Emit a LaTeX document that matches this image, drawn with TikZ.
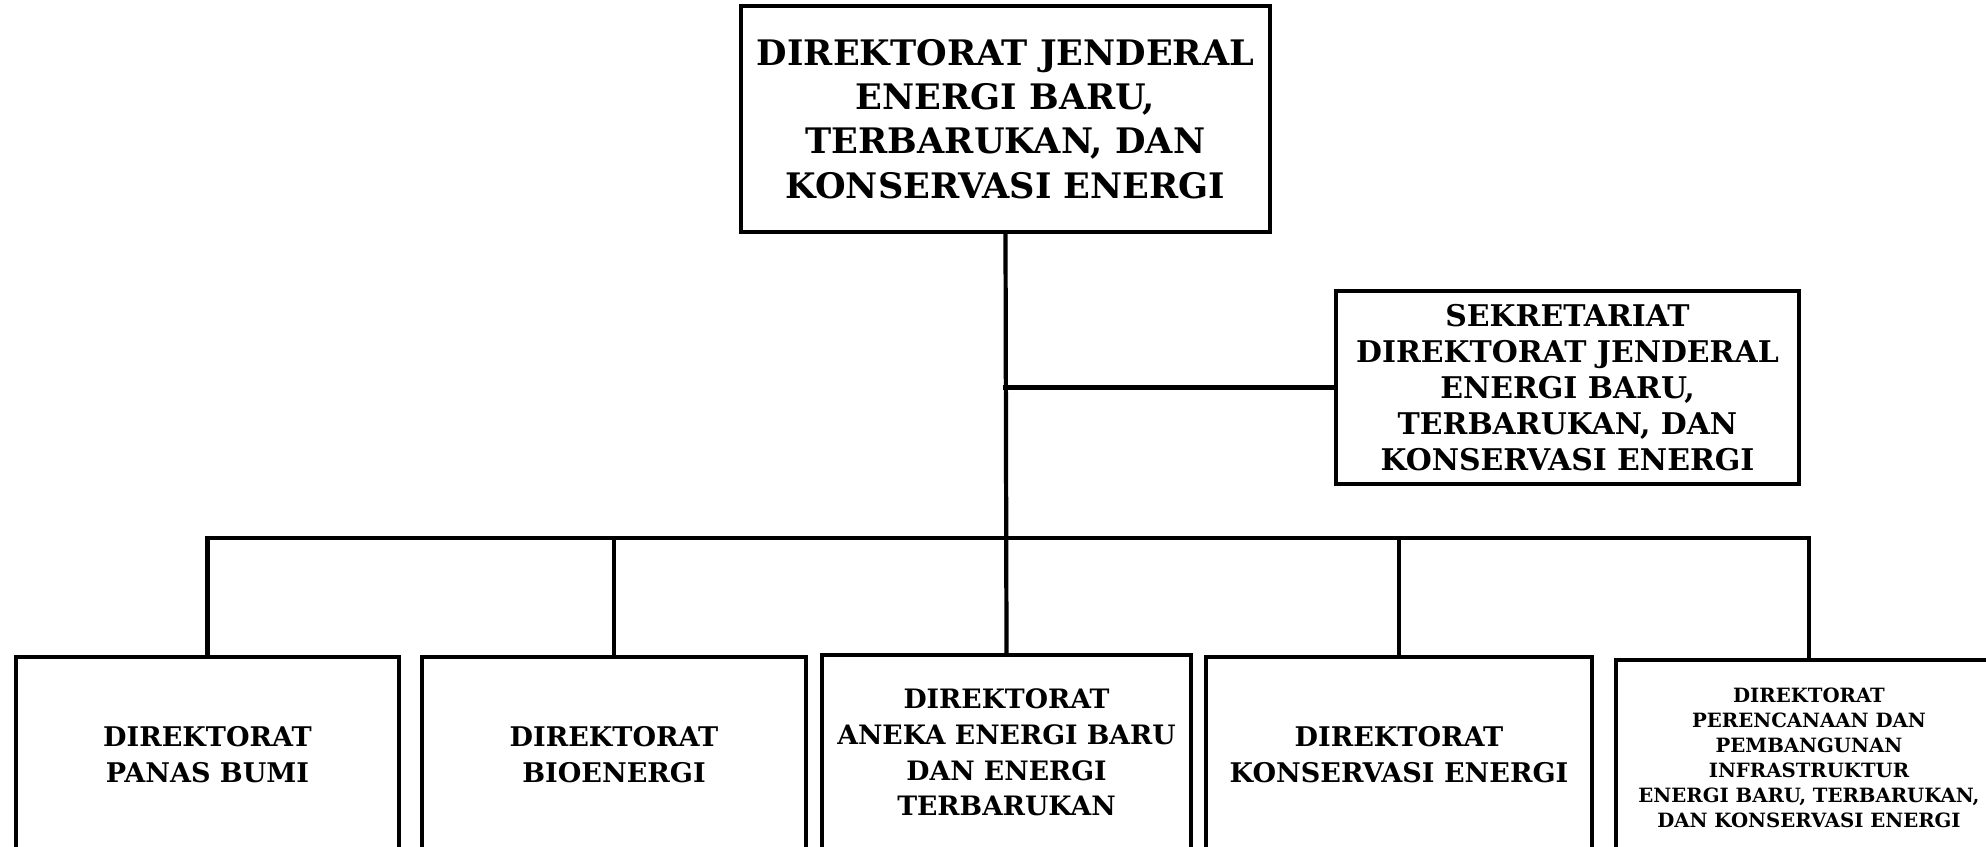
\documentclass[tikz,border=0pt]{standalone}
\usepackage{fontspec}
\setmainfont{DejaVu Serif}
\usetikzlibrary{positioning,calc}

\begin{document}
\begin{tikzpicture}[
    unit/.style={draw, line width=1.2pt, align=center, inner sep=0pt},
    link/.style={line width=1.2pt, line cap=rect},
    dirbox/.style={unit, minimum width=3.84cm, minimum height=1.95cm,
        font=\fontsize{7.7}{10.2}\selectfont\bfseries}]

    \useasboundingbox (0,0) rectangle (19.86,-8.47);
    \clip (0,0) rectangle (19.86,-8.47);

    \node[unit, minimum width=5.29cm, minimum height=2.26cm,
        font=\fontsize{10}{12.6}\selectfont\bfseries] (dirjen) at (10.055,-1.19)
        {DIREKTORAT JENDERAL\\ENERGI BARU,\\TERBARUKAN, DAN\\KONSERVASI ENERGI};
    \node[unit, minimum width=4.63cm, minimum height=1.93cm,
        font=\fontsize{8.5}{10.2}\selectfont\bfseries] (sekdit) at (15.675,-3.875)
        {SEKRETARIAT\\DIREKTORAT JENDERAL\\ENERGI BARU,\\TERBARUKAN, DAN\\KONSERVASI ENERGI};

    \node[dirbox, minimum width=3.83cm] (panas) at (2.075,-7.545) {DIREKTORAT\\PANAS BUMI};
    \node[dirbox] (bio) at (6.14,-7.545) {DIREKTORAT\\BIOENERGI};
    \node[dirbox, minimum width=3.69cm, font=\fontsize{7.6}{10.2}\selectfont\bfseries] (aneka) at (10.065,-7.525)
        {DIREKTORAT\\ANEKA ENERGI BARU\\DAN ENERGI\\TERBARUKAN};
    \node[dirbox, minimum width=3.86cm] (konservasi) at (13.99,-7.545)
        {DIREKTORAT\\KONSERVASI ENERGI};
    \node[dirbox, minimum width=3.86cm, font=\fontsize{5.6}{7.1}\selectfont\bfseries] (infra) at (18.09,-7.575)
        {DIREKTORAT\\PERENCANAAN DAN\\PEMBANGUNAN\\INFRASTRUKTUR\\ENERGI BARU, TERBARUKAN,\\DAN KONSERVASI ENERGI};

    % garis komando
    \coordinate (bar) at (10.06,-5.38);
    \draw[link] (dirjen.south) -- (aneka.north);
    \draw[link] (dirjen.south |- sekdit.west) -- (sekdit.west);
    \draw[link] (panas.north |- bar) -- (infra.north |- bar);
    \foreach \b in {panas,bio,konservasi,infra}
        \draw[link] (\b.north |- bar) -- (\b.north);
\end{tikzpicture}
\end{document}
